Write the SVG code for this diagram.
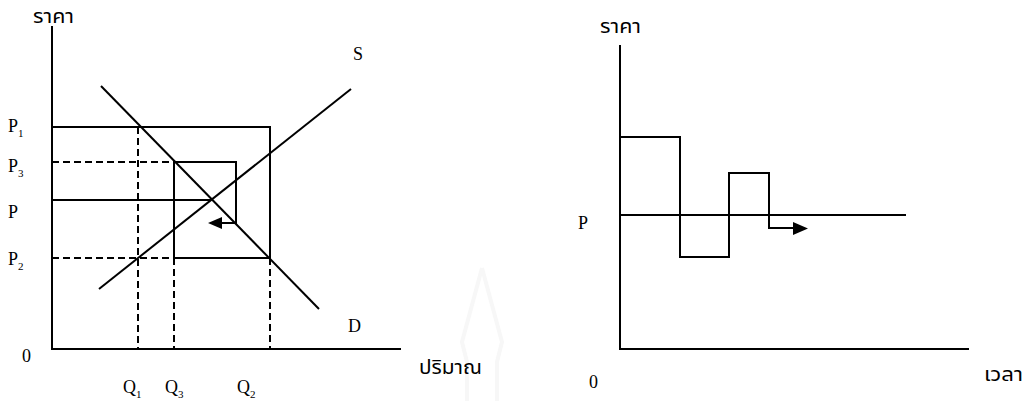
<svg xmlns="http://www.w3.org/2000/svg" width="1029" height="401" viewBox="0 0 1029 401">
<style>
.ln{fill:none;stroke:#000;stroke-width:2}
.ds{fill:none;stroke:#000;stroke-width:2;stroke-dasharray:7,4}
.t{font-family:"Liberation Serif","Times New Roman",serif;font-size:18px;fill:#000}
.th{font-family:"Noto Sans Thai","Noto Serif Thai","Garuda","Loma","Liberation Serif",serif;font-size:19px;fill:#000}
.sb{font-size:11px}
.wm{fill:none;stroke:#f7f7f7;stroke-width:4}
</style>
<rect width="1029" height="401" fill="#fff"/>
<path class="wm" d="M482,268 L462,342 L467,362 V401 M482,268 L502,342 L497,362 V401"/>
<g id="left-chart">
  <g id="left-axes"><path class="ln" d="M52,26 V349 H401"/></g>
  <g id="demand"><path class="ln" d="M101,86 L319,309"/></g>
  <g id="supply"><path class="ln" d="M99,289 L351,89"/></g>
</g>
<g id="connectors">
  <path class="ln" d="M52,127 H270 V258 H174 V162 H236 V223 H221"/>
  <polygon points="208,223 222,217 222,229" fill="#000"/>
  <path class="ln" d="M52,200 H211"/>
  <path class="ds" d="M52,162 H174 M52,258 H174 M138,127 V349 M174,258 V349 M270,258 V349"/>
  <path class="ln" d="M620,137 H680 V257 H729 V173 H769 V228 H794"/>
  <polygon points="793,222 808,228.5 793,235" fill="#000"/>
  <path class="ln" d="M620,215 H906"/>
</g>
<g id="right-chart">
  <g id="right-axes"><path class="ln" d="M620,45 V349 H969"/></g>
</g>
<g id="labels">
  <text class="th" x="33" y="23" textLength="41" lengthAdjust="spacingAndGlyphs">ราคา</text>
  <text class="t" x="353" y="60">S</text>
  <text class="t" x="348" y="332">D</text>
  <text class="t" x="8" y="132">P<tspan class="sb" dy="5">1</tspan></text>
  <text class="t" x="8" y="172">P<tspan class="sb" dy="5">3</tspan></text>
  <text class="t" x="8" y="218">P</text>
  <text class="t" x="8" y="265">P<tspan class="sb" dy="5">2</tspan></text>
  <text class="t" x="22" y="362">0</text>
  <text class="t" x="123" y="393">Q<tspan class="sb" dy="5">1</tspan></text>
  <text class="t" x="165" y="393">Q<tspan class="sb" dy="5">3</tspan></text>
  <text class="t" x="237" y="393">Q<tspan class="sb" dy="5">2</tspan></text>
  <text class="th" x="419" y="374" textLength="63" lengthAdjust="spacingAndGlyphs">ปริมาณ</text>
  <text class="th" x="600" y="33" textLength="41" lengthAdjust="spacingAndGlyphs">ราคา</text>
  <text class="t" x="578" y="229">P</text>
  <text class="t" x="589" y="388">0</text>
  <text class="th" x="984" y="381" textLength="39" lengthAdjust="spacingAndGlyphs">เวลา</text>
</g>
</svg>
